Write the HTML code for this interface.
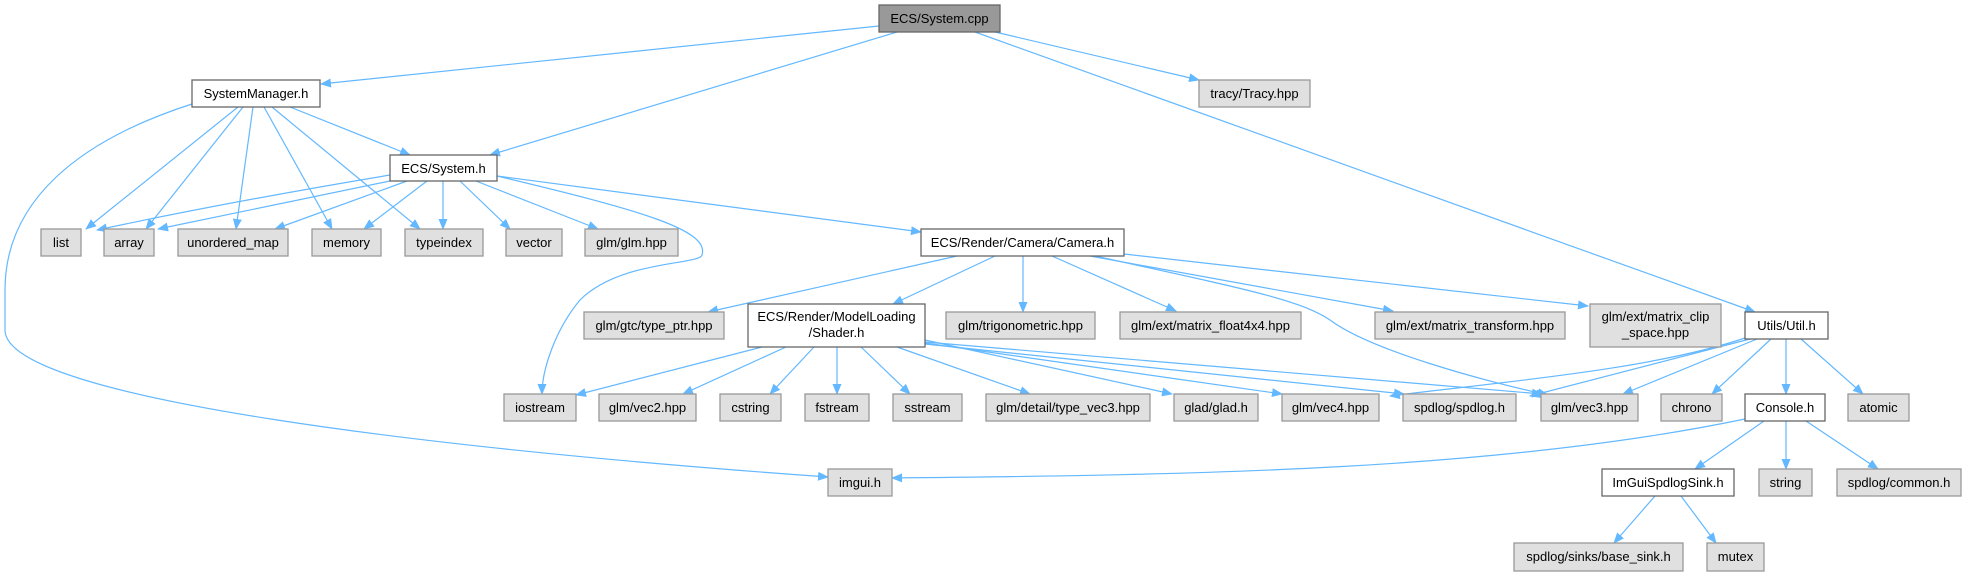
<!DOCTYPE html>
<html><head><meta charset="utf-8"><style>
html,body{margin:0;padding:0;background:#fff;}
svg{display:block}
text{font-family:"Liberation Sans",Arial,sans-serif;font-size:13px;fill:#000;text-anchor:middle;}
.e{fill:none;stroke:#63b8ff;stroke-width:1.2;marker-end:url(#a)}
.l{fill:#e0e0e0;stroke:#999;stroke-width:1.3}
.p{fill:#fff;stroke:#666;stroke-width:1.3}
.c{fill:#999;stroke:#666;stroke-width:1.3}
</style></head><body>
<svg width="1966" height="576" viewBox="0 0 1966 576" xmlns="http://www.w3.org/2000/svg">
<defs><marker id="a" markerWidth="11" markerHeight="9" refX="10" refY="4.5" orient="auto" markerUnits="userSpaceOnUse"><path d="M0,0 L11,4.5 L0,9 Z" fill="#63b8ff"/></marker></defs>
<g>
<path class="e" d="M879,26 L321,84"/>
<path class="e" d="M897,32 L490,155"/>
<path class="e" d="M995,32 L1199,80"/>
<path class="e" d="M975,32 L1755,312"/>
<path class="e" d="M290,107 L410,155"/>
<path class="e" d="M238,107 L86,229"/>
<path class="e" d="M243,107 L146,229"/>
<path class="e" d="M253,107 L236,229"/>
<path class="e" d="M264,107 L332,229"/>
<path class="e" d="M272,107 L420,229"/>
<path class="e" d="M192,104 C80,140 5,200 5,290 L5,330 C5,400 450,450 828,477"/>
<path class="e" d="M390,175 C300,190 200,208 97,230"/>
<path class="e" d="M390,181 L158,229"/>
<path class="e" d="M407,181 L275,229"/>
<path class="e" d="M427,181 L364,229"/>
<path class="e" d="M443,181 L443,229"/>
<path class="e" d="M460,181 L510,229"/>
<path class="e" d="M476,181 L598,229"/>
<path class="e" d="M497,176 L921,232"/>
<path class="e" d="M497,176 C640,210 710,230 702,255 C700,265 620,260 580,300 C555,330 542,370 542,394"/>
<path class="e" d="M957,256 L708,312"/>
<path class="e" d="M995,256 L893,304"/>
<path class="e" d="M1023,256 L1023,312"/>
<path class="e" d="M1052,256 L1176,311"/>
<path class="e" d="M1090,256 L1393,311"/>
<path class="e" d="M1124,254 L1588,306"/>
<path class="e" d="M1095,256 C1250,290 1300,300 1330,320 C1370,350 1480,380 1548,395"/>
<path class="e" d="M762,347 L576,395"/>
<path class="e" d="M786,347 L683,394"/>
<path class="e" d="M814,347 L770,394"/>
<path class="e" d="M837,347 L837,394"/>
<path class="e" d="M861,347 L910,394"/>
<path class="e" d="M897,347 L1030,394"/>
<path class="e" d="M925,340 L1172,394"/>
<path class="e" d="M925,343 L1282,394"/>
<path class="e" d="M925,344 L1404,394"/>
<path class="e" d="M925,342 L1542,394"/>
<path class="e" d="M1745,338 C1650,370 1500,382 1390,396"/>
<path class="e" d="M1750,339 L1530,396"/>
<path class="e" d="M1757,339 L1623,394"/>
<path class="e" d="M1771,339 L1712,394"/>
<path class="e" d="M1786,339 L1786,394"/>
<path class="e" d="M1801,339 L1863,394"/>
<path class="e" d="M1745,419 C1500,470 1200,475 892,478"/>
<path class="e" d="M1764,421 L1695,469"/>
<path class="e" d="M1786,421 L1786,469"/>
<path class="e" d="M1806,421 L1878,469"/>
<path class="e" d="M1655,496 L1614,543"/>
<path class="e" d="M1681,496 L1716,543"/>
</g>
<g>
<rect class="c" x="879" y="5" width="121" height="27"/><text x="939.5" y="23">ECS/System.cpp</text>
<rect class="p" x="192" y="80" width="128" height="27"/><text x="256" y="98">SystemManager.h</text>
<rect class="l" x="1199" y="80" width="111" height="27"/><text x="1254.5" y="98">tracy/Tracy.hpp</text>
<rect class="p" x="390" y="155" width="107" height="26"/><text x="443.5" y="173">ECS/System.h</text>
<rect class="l" x="41" y="229" width="40" height="27"/><text x="61" y="247">list</text>
<rect class="l" x="104" y="229" width="50" height="27"/><text x="129" y="247">array</text>
<rect class="l" x="178" y="229" width="110" height="27"/><text x="233" y="247">unordered_map</text>
<rect class="l" x="312" y="229" width="69" height="27"/><text x="346.5" y="247">memory</text>
<rect class="l" x="405" y="229" width="78" height="27"/><text x="444" y="247">typeindex</text>
<rect class="l" x="506" y="229" width="56" height="27"/><text x="534" y="247">vector</text>
<rect class="l" x="585" y="229" width="93" height="27"/><text x="631.5" y="247">glm/glm.hpp</text>
<rect class="p" x="921" y="229" width="203" height="27"/><text x="1022.5" y="247">ECS/Render/Camera/Camera.h</text>
<rect class="l" x="584" y="312" width="140" height="27"/><text x="654" y="330">glm/gtc/type_ptr.hpp</text>
<rect class="p" x="748" y="304" width="177" height="43"/><text x="836.5" y="321">ECS/Render/ModelLoading</text><text x="836.5" y="337">/Shader.h</text>
<rect class="l" x="946" y="312" width="149" height="27"/><text x="1020.5" y="330">glm/trigonometric.hpp</text>
<rect class="l" x="1120" y="312" width="181" height="27"/><text x="1210.5" y="330">glm/ext/matrix_float4x4.hpp</text>
<rect class="l" x="1375" y="312" width="190" height="27"/><text x="1470" y="330">glm/ext/matrix_transform.hpp</text>
<rect class="l" x="1590" y="304" width="131" height="43"/><text x="1655.5" y="321">glm/ext/matrix_clip</text><text x="1655.5" y="337">_space.hpp</text>
<rect class="p" x="1745" y="312" width="83" height="27"/><text x="1786.5" y="330">Utils/Util.h</text>
<rect class="l" x="504" y="394" width="72" height="27"/><text x="540" y="412">iostream</text>
<rect class="l" x="599" y="394" width="97" height="27"/><text x="647.5" y="412">glm/vec2.hpp</text>
<rect class="l" x="720" y="394" width="61" height="27"/><text x="750.5" y="412">cstring</text>
<rect class="l" x="805" y="394" width="64" height="27"/><text x="837" y="412">fstream</text>
<rect class="l" x="893" y="394" width="69" height="27"/><text x="927.5" y="412">sstream</text>
<rect class="l" x="986" y="394" width="164" height="27"/><text x="1068" y="412">glm/detail/type_vec3.hpp</text>
<rect class="l" x="1174" y="394" width="84" height="27"/><text x="1216" y="412">glad/glad.h</text>
<rect class="l" x="1282" y="394" width="97" height="27"/><text x="1330.5" y="412">glm/vec4.hpp</text>
<rect class="l" x="1403" y="394" width="113" height="27"/><text x="1459.5" y="412">spdlog/spdlog.h</text>
<rect class="l" x="1541" y="394" width="97" height="27"/><text x="1589.5" y="412">glm/vec3.hpp</text>
<rect class="l" x="1661" y="394" width="61" height="27"/><text x="1691.5" y="412">chrono</text>
<rect class="p" x="1745" y="394" width="80" height="27"/><text x="1785" y="412">Console.h</text>
<rect class="l" x="1848" y="394" width="61" height="27"/><text x="1878.5" y="412">atomic</text>
<rect class="l" x="828" y="469" width="64" height="27"/><text x="860" y="487">imgui.h</text>
<rect class="p" x="1602" y="469" width="132" height="27"/><text x="1668" y="487">ImGuiSpdlogSink.h</text>
<rect class="l" x="1759" y="469" width="53" height="27"/><text x="1785.5" y="487">string</text>
<rect class="l" x="1837" y="469" width="124" height="27"/><text x="1899" y="487">spdlog/common.h</text>
<rect class="l" x="1514" y="543" width="169" height="28"/><text x="1598.5" y="561">spdlog/sinks/base_sink.h</text>
<rect class="l" x="1707" y="543" width="57" height="28"/><text x="1735.5" y="561">mutex</text>
</g>
</svg>
</body></html>
